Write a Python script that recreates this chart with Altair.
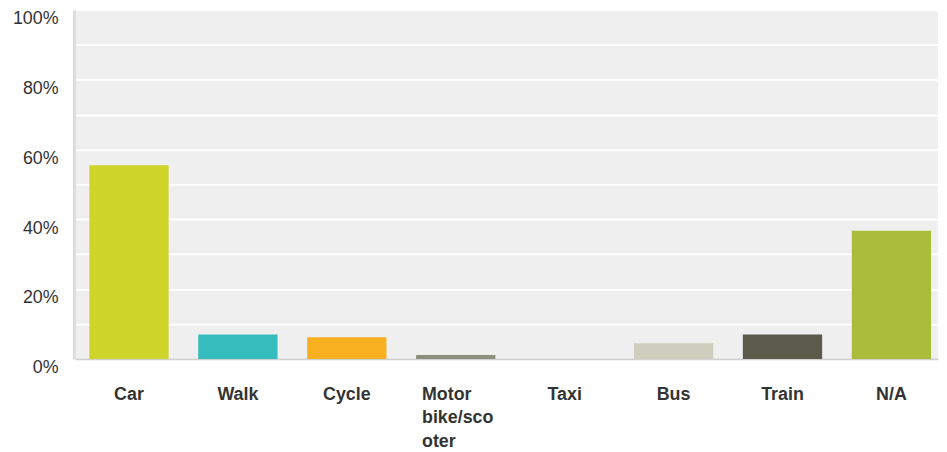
import altair as alt
import pandas as pd

categories = ["Car", "Walk", "Cycle", "Motor bike/scooter", "Taxi", "Bus", "Train", "N/A"]
values = [55.5, 7.0, 6.2, 1.1, 0.0, 4.5, 7.0, 36.7]
colors = ["#cfd42a", "#35bdbe", "#f8b020", "#8d8f7e", "#b5b5a5", "#cfcdbe", "#5c5a4a", "#aabd3a"]
y_ticks = list(range(0, 101, 10))

df = pd.DataFrame({"mode": categories, "pct": values})

multi_test = "datum.value == 'Motor bike/scooter'"

chart = alt.Chart(df).mark_bar().encode(
    x=alt.X(
        "mode:N",
        sort=categories,
        title=None,
        scale=alt.Scale(paddingInner=0.272, paddingOuter=0.0956, align=0.667),
        axis=alt.Axis(
            labelAngle=0,
            labelFont="Liberation Sans",
            labelFontSize=18,
            labelFontWeight="bold",
            labelColor="#333333",
            labelPadding=27,
            labelBaseline="top",
            labelLineHeight=23.5,
            labelAlign={"condition": {"test": multi_test, "value": "left"}, "value": "center"},
            labelOffset={"condition": {"test": multi_test, "value": -34}, "value": 0},
            labelExpr="datum.label == 'Motor bike/scooter' ? ['Motor', 'bike/sco', 'oter'] : datum.label",
            ticks=False,
            domainColor="#d0d0d0",
            domainWidth=2,
            grid=False,
        ),
    ),
    y=alt.Y(
        "pct:Q",
        title=None,
        scale=alt.Scale(domain=[0, 100], nice=False),
        axis=alt.Axis(
            values=y_ticks,
            labelExpr="datum.value % 20 == 0 ? datum.value + '%' : ''",
            labelFont="Liberation Sans",
            labelFontSize=18,
            labelColor="#333333",
            labelPadding=16,
            labelOffset=9,
            ticks=False,
            domainColor="#dcdcdc",
            domainWidth=3,
            offset=1.5,
            grid=True,
            gridColor="#ffffff",
            gridWidth=2,
            gridOpacity=1,
        ),
    ),
    color=alt.Color("mode:N", sort=categories, scale=alt.Scale(domain=categories, range=colors), legend=None),
).properties(
    width=870,
    height=352,
    autosize=alt.AutoSizeParams(type="none"),
    padding={"left": 68, "top": 0, "right": 1, "bottom": 90},
).configure_view(
    fill="#efefef",
    strokeWidth=0,
)

chart.save("out.html", embed_options={"renderer": "svg", "actions": False})
